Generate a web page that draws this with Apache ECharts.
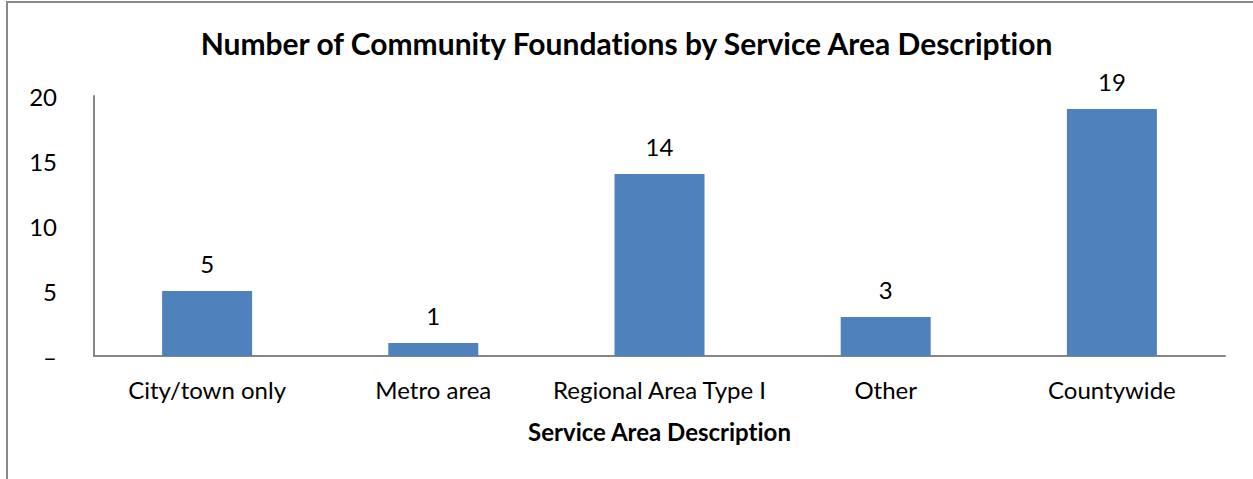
<!DOCTYPE html>
<html>
<head>
<meta charset="utf-8">
<script src="https://cdn.jsdelivr.net/npm/echarts@6/dist/echarts.min.js"></script>
<style>
html,body{margin:0;padding:0;background:#fff;}
#chart{width:1253px;height:479px;}
#chart text{font-variant-ligatures:none;font-feature-settings:"liga" 0,"clig" 0;}
</style>
</head>
<body>
<div id="chart"></div>
<script>
const categories = ["City/town only", "Metro area", "Regional Area Type I", "Other", "Countywide"];
const counts = [5, 1, 14, 3, 19];
const yTicks = [0, 5, 10, 15, 20];
const zeroTickLabel = "–";
const titleText = "Number of Community Foundations by Service Area Description";
const xAxisTitle = "Service Area Description";

const FONT = "Lato";
const chart = echarts.init(document.getElementById('chart'), null, {renderer: 'svg'});
chart.setOption({
  animation: false,
  backgroundColor: '#ffffff',
  title: {
    text: titleText,
    left: 'center',
    top: 23,
    textStyle: {fontFamily: FONT, fontWeight: 'bold', fontSize: 30, color: '#000'}
  },
  graphic: [{
    type: 'rect',
    shape: {x: 7, y: 2, width: 1400, height: 700},
    style: {fill: 'none', stroke: '#898989', lineWidth: 2},
    silent: true
  }],
  grid: {left: 94, right: 28, top: 96, bottom: 123, containLabel: false},
  xAxis: {
    type: 'category',
    data: categories,
    name: xAxisTitle,
    nameLocation: 'middle',
    nameGap: 63,
    nameTextStyle: {fontFamily: FONT, fontWeight: 'bold', fontSize: 24, color: '#000', verticalAlign: 'top'},
    axisLine: {lineStyle: {color: '#868686', width: 2}},
    axisTick: {show: false},
    axisLabel: {fontFamily: FONT, fontSize: 24, color: '#000', margin: 21, interval: 0}
  },
  yAxis: {
    type: 'value',
    min: yTicks[0],
    max: yTicks[yTicks.length - 1],
    interval: yTicks[1] - yTicks[0],
    axisLine: {show: true, lineStyle: {color: '#868686', width: 2}},
    axisTick: {show: false},
    splitLine: {show: false},
    axisLabel: {
      fontFamily: FONT, fontSize: 24, color: '#000', margin: 37,
      formatter: v => v === 0 ? zeroTickLabel : String(v)
    }
  },
  series: [{
    type: 'bar',
    data: counts,
    barWidth: 90,
    itemStyle: {color: '#4F81BD'},
    label: {show: true, position: 'top', distance: 16, fontFamily: FONT, fontSize: 24, color: '#000'}
  }]
});
</script>
</body>
</html>
